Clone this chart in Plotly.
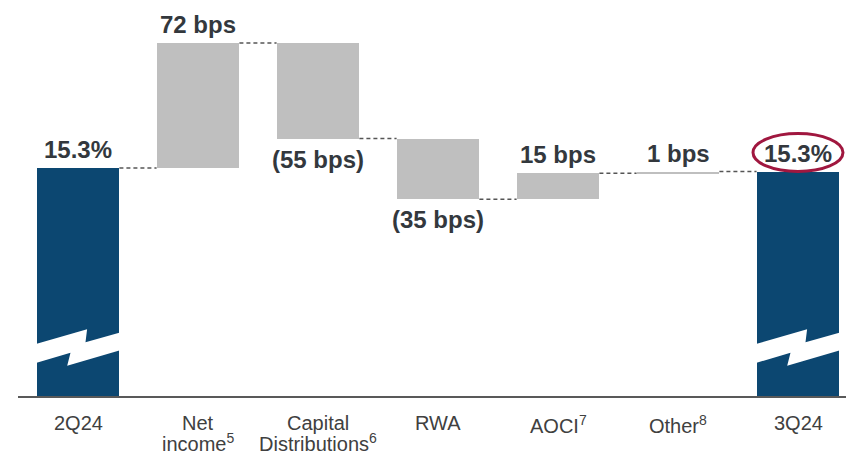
import plotly.graph_objects as go

# ---- data ----
categories = ["2Q24", "Net income", "Capital Distributions", "RWA", "AOCI", "Other", "3Q24"]
label_line1 = ["2Q24", "Net", "Capital", "RWA", "AOCI<sup>7</sup>", "Other<sup>8</sup>", "3Q24"]
label_line2 = ["", "income<sup>5</sup>", "Distributions<sup>6</sup>", "", "", "", ""]
start_ratio = 15.30          # CET1 ratio, %
changes_bps = [72, -55, -35, 15, 1]
end_ratio = 15.28
value_labels = ["15.3%", "72 bps", "(55 bps)", "(35 bps)", "15 bps", "1 bps", "15.3%"]

# ---- derived geometry (from data) ----
BLUE = "#0C4771"
GREY = "#BFBFBF"
TXT = "#33383D"
FONT = "Arial, Liberation Sans, sans-serif"

x = list(range(len(categories)))
bases, heights, colors, kinds = [], [], [], []
bases.append(0); heights.append(start_ratio); colors.append(BLUE); kinds.append("total")
level = start_ratio
levels_after = [start_ratio]
for c in changes_bps:
    d = c / 100.0
    if d >= 0:
        bases.append(level); heights.append(d); kinds.append("up")
    else:
        bases.append(level + d); heights.append(-d); kinds.append("down")
    colors.append(GREY)
    level += d
    levels_after.append(level)
bases.append(0); heights.append(end_ratio); colors.append(BLUE); kinds.append("total")

BW = 0.69
ymin, ymax = 13.987, 16.268

fig = go.Figure()
fig.add_trace(go.Bar(
    x=x, y=heights, base=bases, width=BW,
    marker=dict(color=colors, line=dict(width=0)),
    hoverinfo="skip", showlegend=False,
))

shapes = []
# connectors
for i in range(len(categories) - 1):
    lv = levels_after[i] if i < len(levels_after) else level
    shapes.append(dict(type="line", xref="x", yref="y",
                       x0=x[i] + BW / 2, x1=x[i + 1] - BW / 2, y0=lv, y1=lv,
                       line=dict(color="#555555", width=1.4, dash="4px,3px")))

# axis-break lightning on the total bars (pixel offsets from bar centre / axis bottom)
bolt = "M -43,51.7 L 9.1,66.7 L 7.5,53.7 L 43,63.7 L 43,46 L -10.8,30.3 L -7.5,43.3 L -43,32.7 Z"
for i in (0, len(categories) - 1):
    shapes.append(dict(type="path", xref="x", yref="y", xsizemode="pixel", ysizemode="pixel",
                       xanchor=x[i], yanchor=ymin, path=bolt,
                       fillcolor="white", line=dict(width=0), layer="above"))

# highlight ellipse around final value
shapes.append(dict(type="circle", xref="x", yref="y", xsizemode="pixel", ysizemode="pixel",
                   xanchor=x[-1], yanchor=end_ratio, x0=-45, x1=45, y0=0, y1=38,
                   line=dict(color="#A0173F", width=3), fillcolor="rgba(0,0,0,0)", layer="above"))

annotations = []
for i in range(len(categories)):
    top = bases[i] + heights[i]
    if kinds[i] == "down":
        annotations.append(dict(x=x[i], y=bases[i], xref="x", yref="y", text=value_labels[i],
                                showarrow=False, yanchor="top", yshift=-5,
                                font=dict(family=FONT, size=24, color=TXT, weight="bold")))
    else:
        annotations.append(dict(x=x[i], y=top, xref="x", yref="y", text=value_labels[i],
                                showarrow=False, yanchor="bottom", yshift=3,
                                font=dict(family=FONT, size=24, color=TXT, weight="bold")))
    annotations.append(dict(x=x[i], y=0, xref="x", yref="paper", text=label_line1[i],
                            showarrow=False, yanchor="top", yshift=-14,
                            font=dict(family=FONT, size=20, color="#404040")))
    if label_line2[i]:
        annotations.append(dict(x=x[i], y=0, xref="x", yref="paper", text=label_line2[i],
                                showarrow=False, yanchor="top", yshift=-32,
                                font=dict(family=FONT, size=20, color="#404040")))

fig.update_layout(
    width=846, height=455,
    margin=dict(l=18, r=0, t=0, b=59),
    paper_bgcolor="white", plot_bgcolor="white",
    xaxis=dict(range=[-0.5, 6.4], showticklabels=False, showgrid=False, zeroline=False,
               showline=True, linecolor="#595959", linewidth=2, ticks=""),
    yaxis=dict(range=[ymin, ymax], visible=False, showgrid=False, zeroline=False),
    shapes=shapes, annotations=annotations,
    bargap=0, showlegend=False,
)

fig.write_html("out.html", config={"displayModeBar": False})
